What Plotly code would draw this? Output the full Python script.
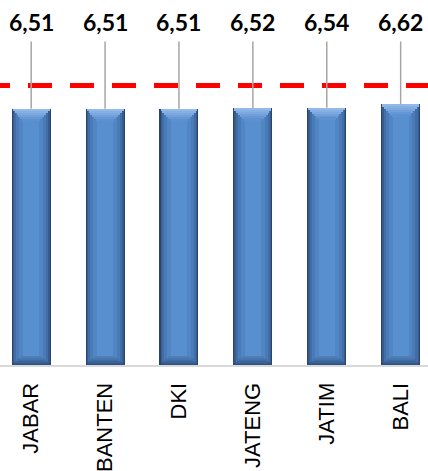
import plotly.graph_objects as go

categories = ["JABAR", "BANTEN", "DKI", "JATENG", "JATIM", "BALI"]
values = [6.51, 6.51, 6.51, 6.52, 6.54, 6.62]
value_labels = ["6,51", "6,51", "6,51", "6,52", "6,54", "6,62"]
target = 7.1

x = list(range(len(categories)))

fig = go.Figure()

# body layers (dark edge -> lighter centre)
body = [(0.528, "#2A4670"), (0.50, "#375B8D"), (0.46, "#426EA6"),
        (0.40, "#4A7BB8"), (0.32, "#5186C5"), (0.22, "#5890CF")]
for w, c in body:
    fig.add_trace(go.Bar(x=x, y=values, width=w, marker=dict(color=c, line=dict(width=0)),
                         hoverinfo="skip", showlegend=False))

# top bevel (light trapezoid, wider at top)
bev_top = 0.30
n = 6
for k in range(n):
    frac = (k + 1) / n
    w = 0.50 - 0.26 * (k / (n - 1))
    col = ["#93B9EA", "#86B0E4", "#7BA8DE", "#709FD9", "#6697D4", "#5C90CF"][k]
    fig.add_trace(go.Bar(x=x, y=[bev_top / n] * len(x),
                         base=[v - bev_top * frac for v in values],
                         width=w, marker=dict(color=col, line=dict(width=0)),
                         hoverinfo="skip", showlegend=False))

# bottom bevel (darker band)
bev_bot = 0.22
for k in range(n):
    w = 0.50 - 0.20 * (k / (n - 1))
    col = ["#2F5282", "#355A8C", "#3B6396", "#416CA1", "#4875AD", "#4E7EB8"][k]
    fig.add_trace(go.Bar(x=x, y=[bev_bot / n] * len(x),
                         base=[bev_bot * k / n] * len(x),
                         width=w, marker=dict(color=col, line=dict(width=0)),
                         hoverinfo="skip", showlegend=False))

px_per_unit = 39.3
plot_h = 364.5
ymax = plot_h / px_per_unit
label_y = (plot_h - 22) / px_per_unit

for xi, v, t in zip(x, values, value_labels):
    fig.add_annotation(x=xi, y=v, ax=xi, ay=label_y, xref="x", yref="y",
                       axref="x", ayref="y", text="<b>" + t + "</b>",
                       showarrow=True, arrowhead=0, arrowwidth=1.5,
                       arrowcolor="#A6A6A6", standoff=0, startstandoff=4,
                       font=dict(family="Lato", size=23, color="#000000"))

fig.add_shape(type="line", xref="paper", yref="y", x0=-14 / 428, x1=1.05,
              y0=target, y1=target, line=dict(color="#FF0000", width=5, dash="24px,18px"))

fig.update_layout(
    width=428, height=471,
    margin=dict(l=0, r=0, t=0, b=106),
    barmode="overlay",
    bargap=0,
    plot_bgcolor="white", paper_bgcolor="white",
    showlegend=False,
)
fig.update_xaxes(range=[-0.422, 5.37], tickvals=x, ticktext=categories,
                 tickangle=-90, tickfont=dict(family="Liberation Sans", size=22, color="#000000"),
                 showline=True, linecolor="#D9D9D9", linewidth=2, showgrid=False,
                 zeroline=False, ticks="", ticklabelstandoff=7)
fig.update_yaxes(range=[0, ymax], visible=False, showgrid=False, zeroline=False)

fig.write_html("out.html", config={"displayModeBar": False},
               post_script="document.body.style.margin='0px';document.body.style.padding='0px';")
